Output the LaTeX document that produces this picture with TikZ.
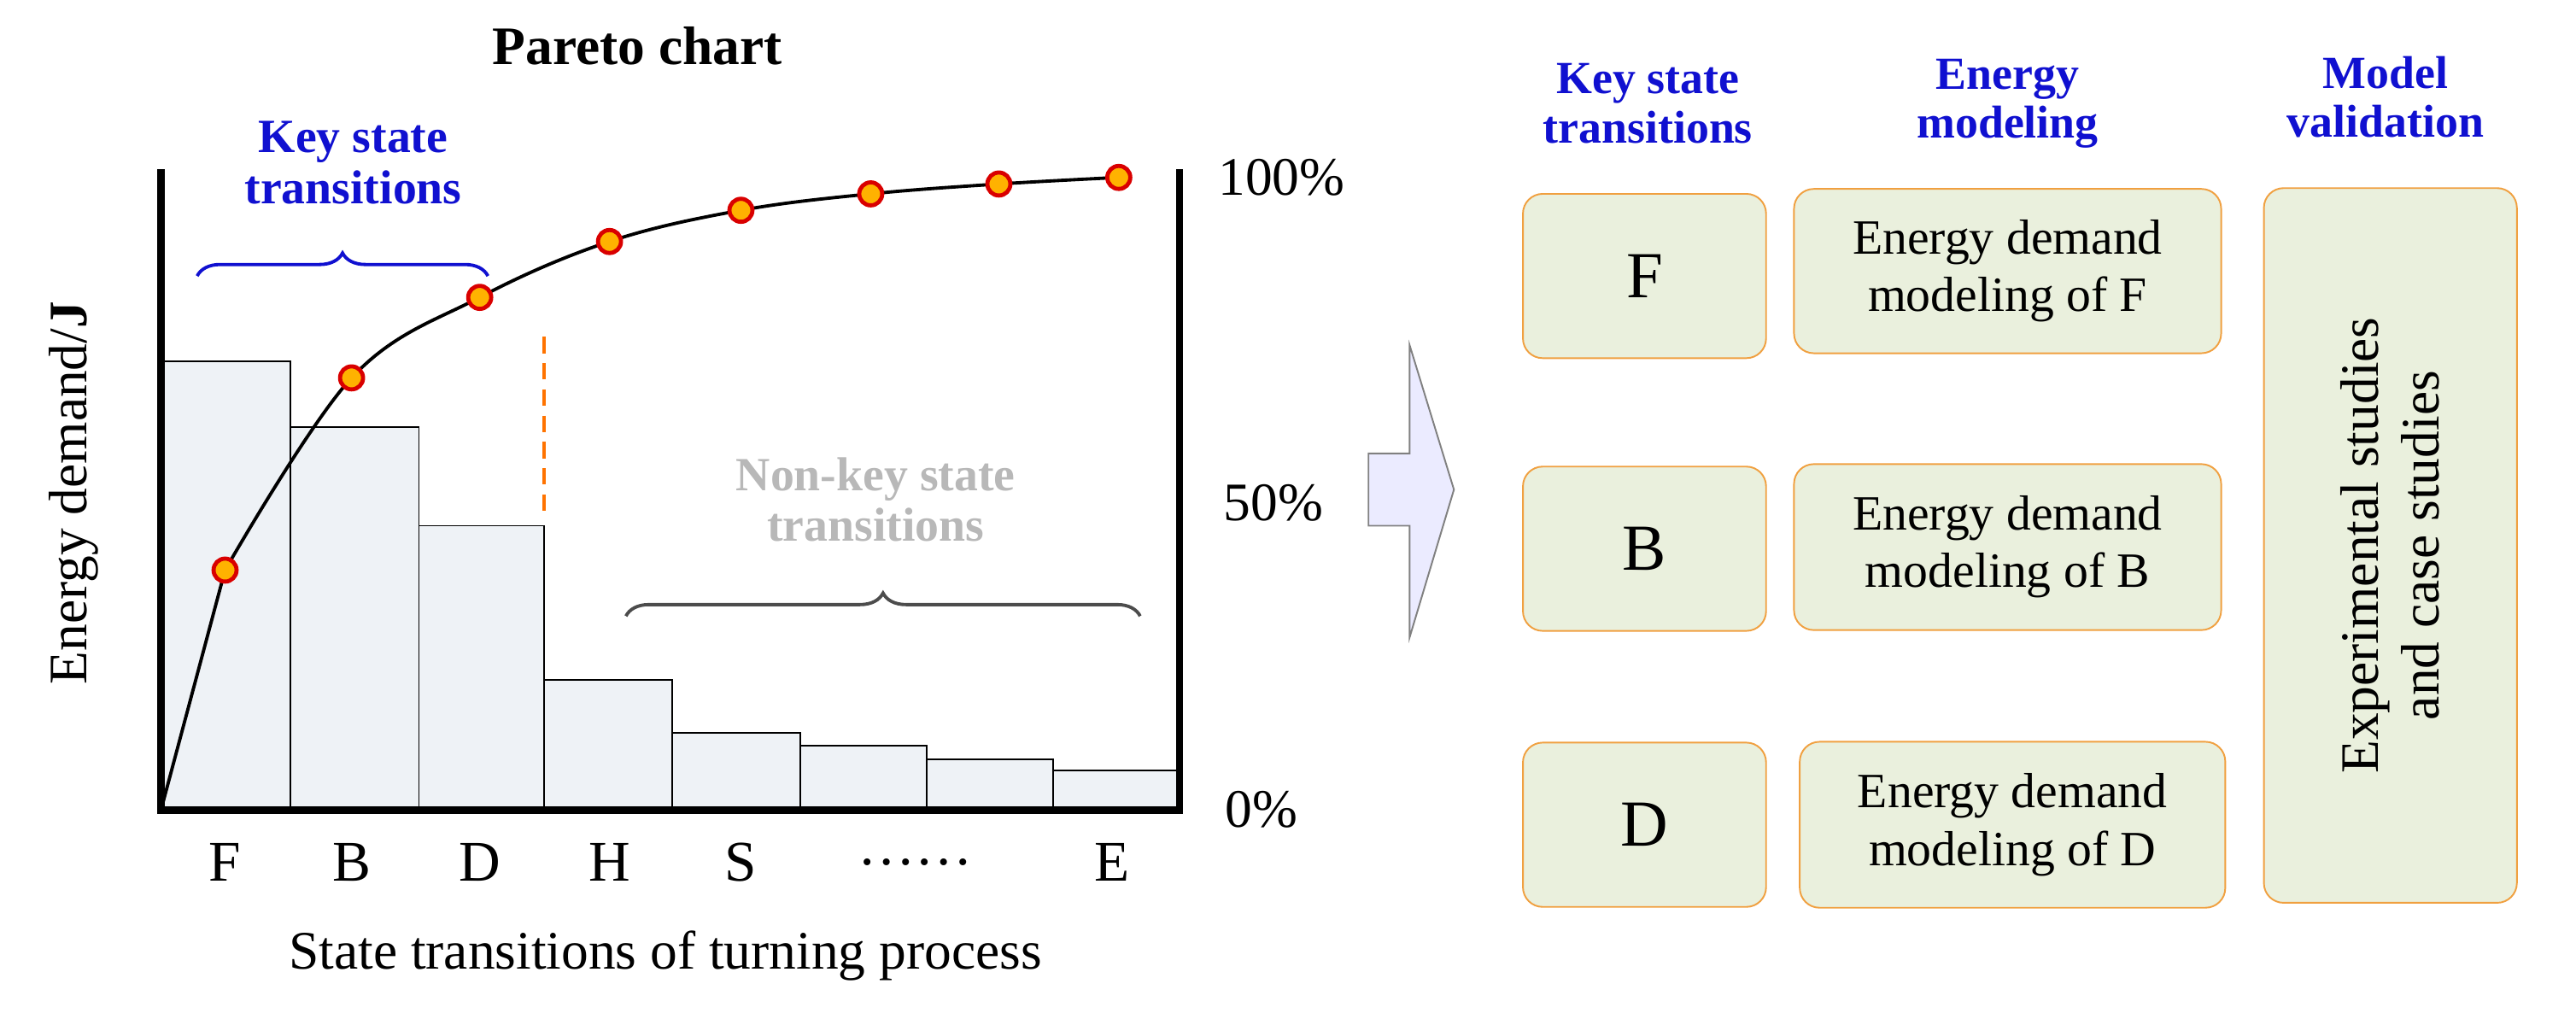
\documentclass[tikz,border=0pt]{standalone}
\usepackage{fontspec}
\setmainfont{Liberation Serif}
\usetikzlibrary{decorations.pathreplacing,shapes.arrows}
\definecolor{barf}{HTML}{EEF2F6}
\definecolor{boxf}{HTML}{EAF0DD}
\definecolor{boxd}{HTML}{F0A040}
\definecolor{kblue}{HTML}{1010D0}
\definecolor{kgray}{HTML}{B8B8B8}
\begin{document}
\begin{tikzpicture}[x=1pt,y=-1pt,
  bar/.style={draw=black,fill=barf,line width=1pt},
  pt/.style={circle,draw=red!85!black,fill=orange!60!yellow,line width=2.5pt,inner sep=0,minimum size=14pt},
  lbl/.style={font=\fontsize{33}{35}\selectfont},
  xl/.style={font=\fontsize{35}{37}\selectfont},
  hdr/.style={font=\fontsize{28}{30}\selectfont\bfseries,text=kblue,align=center},
  bx/.style={draw=boxd,fill=boxf,rounded corners=12pt,line width=1pt,align=center,font=\fontsize{30}{35}\selectfont}]
\useasboundingbox (0,0) rectangle (1568,620);
\node[font=\fontsize{33}{35}\selectfont\bfseries] (title) at (388,28) {Pareto chart};
% bars
\draw[bar] (100,220) rectangle (177,493);
\draw[bar] (177,260) rectangle (255,493);
\draw[bar] (255,320) rectangle (331,493);
\draw[bar] (331,414) rectangle (409,493);
\draw[bar] (409,446) rectangle (487,493);
\draw[bar] (487,454) rectangle (564,493);
\draw[bar] (564,462) rectangle (641,493);
\draw[bar] (641,469) rectangle (718,493);
% axes
\draw[line width=4.5pt] (98,103) -- (98,493) -- (718,493) -- (718,103);
% curve
\draw[line width=2pt] (98,493) -- (137,347);
\draw[line width=2pt] plot[smooth,tension=0.6] coordinates {(137,347) (214,230) (292,181) (371,147) (451,128) (530,118) (608,112) (681,108)};
\foreach \p/\x/\y in {a/137/347,b/214/230,c/292/181,d/371/147,e/451/128,f/530/118,g/608/112,h/681/108}
  \node[pt] (\p) at (\x,\y) {};
\draw[dash pattern=on 10pt off 6pt,orange!90!red,line width=2pt] (331,205) -- (331,315);
\draw[kblue,line width=2pt,decorate,decoration={brace,amplitude=14pt}] (120,168) -- (297,168);
\node[hdr,font=\fontsize{29}{31}\selectfont\bfseries] (ks) at (215,99) {Key state\\transitions};
\node[hdr,text=kgray,font=\fontsize{29}{31}\selectfont\bfseries] (nk) at (533,304) {Non-key state\\transitions};
\draw[black!70,line width=2pt,decorate,decoration={brace,amplitude=14pt}] (381,375) -- (694,375);
\node[lbl] (p100) at (780,108) {100\%};
\node[lbl] (p50) at (775,306) {50\%};
\node[lbl] (p0) at (768,493) {0\%};
\node[xl] (lF) at (137,525) {F};
\node[xl] (lB) at (214,525) {B};
\node[xl] (lD) at (292,525) {D};
\node[xl] (lH) at (371,525) {H};
\node[xl] (lS) at (451,525) {S};
\node[xl] (ld) at (557,525) {\ldots\ldots};
\node[xl] (lE) at (677,525) {E};
\node[lbl] (xlab) at (405,582) {State transitions of turning process};
\node[lbl,rotate=90] (yl) at (45,300) {Energy demand/\textbf{J}};
% arrow
\draw[draw=gray,fill=blue!8,line width=1pt] (833,276) -- (858,276) -- (858,210) -- (885,298) -- (858,388) -- (858,320) -- (833,320) -- cycle;
% right
\node[hdr] (h1) at (1003,63) {Key state\\transitions};
\node[hdr] (h2) at (1222,63) {Energy\\modeling};
\node[hdr] (h3) at (1452,59) {Model\\validation};
\node[bx,minimum width=148pt,minimum height=100pt,font=\fontsize{40}{42}\selectfont] (F) at (1001,168) {F};
\node[bx,minimum width=148pt,minimum height=100pt,font=\fontsize{40}{42}\selectfont] (B) at (1001,334) {B};
\node[bx,minimum width=148pt,minimum height=100pt,font=\fontsize{40}{42}\selectfont] (D) at (1001,502) {D};
\node[bx,minimum width=260pt,minimum height=100pt] (EF) at (1222,165) {Energy demand\\modeling of F};
\node[bx,minimum width=260pt,minimum height=101pt] (EB) at (1222,333) {Energy demand\\modeling of B};
\node[bx,minimum width=259pt,minimum height=101pt] (ED) at (1225,502) {Energy demand\\modeling of D};
\node[bx,minimum width=154pt,minimum height=435pt] (V) at (1455,332) {};
\node[rotate=90,align=center,font=\fontsize{33}{37}\selectfont] (vt) at (1455,332) {Experimental studies\\and case studies};
\end{tikzpicture}
\end{document}
